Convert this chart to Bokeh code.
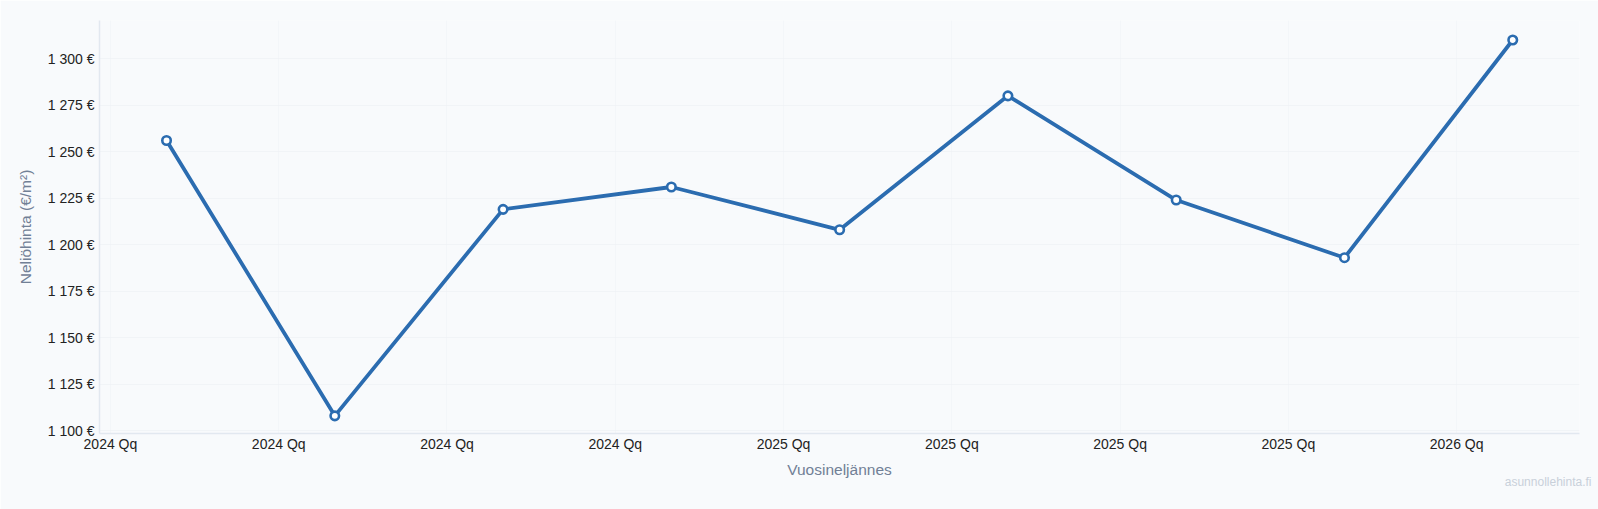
from bokeh.plotting import figure
from bokeh.models import FixedTicker, Range1d, Title, ColumnDataSource
from bokeh.embed import file_html
from bokeh.resources import INLINE

# --- data ---
quarters = ["2024 Q1", "2024 Q2", "2024 Q3", "2024 Q4",
            "2025 Q1", "2025 Q2", "2025 Q3", "2025 Q4", "2026 Q1"]
price = [1256, 1108, 1219, 1231, 1208, 1280, 1224, 1193, 1310]
x_tick_labels = ["2024 Qq", "2024 Qq", "2024 Qq", "2024 Qq",
                 "2025 Qq", "2025 Qq", "2025 Qq", "2025 Qq", "2026 Qq"]
y_ticks = [1100, 1125, 1150, 1175, 1200, 1225, 1250, 1275, 1300]
y_tick_labels = ["1 100 €", "1 125 €", "1 150 €", "1 175 €", "1 200 €",
                 "1 225 €", "1 250 €", "1 275 €", "1 300 €"]

# points sit one month into each quarter (quarter index units)
month_offset = 1 / 3
xs = [i + month_offset for i in range(len(quarters))]
src = ColumnDataSource(dict(x=xs, y=price, q=quarters))

BG = "#f8fafc"
LINE = "#2b6cb0"
FONT = "Liberation Sans"

p = figure(width=1598, height=509, output_backend="svg", toolbar_location=None,
           x_range=Range1d(-0.065, 8.73), y_range=Range1d(1098.5, 1320.5),
           min_border_left=99, min_border_right=19, min_border_top=20,
           min_border_bottom=76)
p.background_fill_color = BG
p.border_fill_color = BG
p.outline_line_color = None

p.line("x", "y", source=src, line_color=LINE, line_width=3.8)
p.scatter("x", "y", source=src, size=8.5, fill_color="white",
          line_color=LINE, line_width=2.6)

# axes
p.xaxis.ticker = FixedTicker(ticks=list(range(len(quarters))))
p.xaxis.major_label_overrides = {i: t for i, t in enumerate(x_tick_labels)}
p.yaxis.ticker = FixedTicker(ticks=y_ticks)
p.yaxis.major_label_overrides = {v: t for v, t in zip(y_ticks, y_tick_labels)}

for ax in (p.xaxis[0], p.yaxis[0]):
    ax.axis_line_color = "#e2e8f0"
    ax.axis_line_width = 1.5
    ax.major_tick_line_color = None
    ax.minor_tick_line_color = None
    ax.major_tick_out = 0
    ax.major_tick_in = 0
    ax.major_label_text_font = FONT
    ax.major_label_text_font_size = "14px"
    ax.major_label_text_color = "#222222"
    ax.axis_label_text_font = FONT
    ax.axis_label_text_font_size = "15.5px"
    ax.axis_label_text_color = "#718096"
    ax.axis_label_text_font_style = "normal"

p.xaxis.axis_label = "Vuosineljännes"
p.yaxis.axis_label = "Neliöhinta (€/m²)"
p.xaxis.major_label_standoff = 2
p.yaxis.major_label_standoff = 5
p.xaxis.axis_label_standoff = 6
p.yaxis.axis_label_standoff = 11

p.xgrid.grid_line_color = "#eef1f5"
p.xgrid.grid_line_alpha = 0.5
p.ygrid.grid_line_color = "#eef1f5"
p.ygrid.grid_line_alpha = 0.7

# watermark below the axis, bottom-right
wm = Title(text="asunnollehinta.fi", align="right", offset=-12, standoff=-12,
           vertical_align="top",
           text_font=FONT, text_font_size="12px", text_color="#c8d0da",
           text_font_style="normal")
p.add_layout(wm, "below")

open("out.html", "w").write(file_html(p, INLINE))
